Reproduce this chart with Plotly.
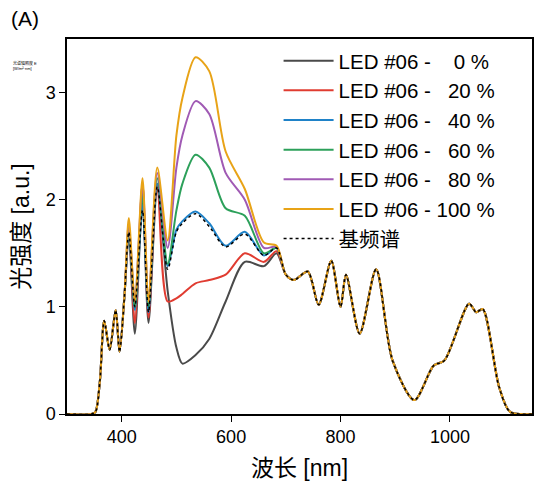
import plotly.graph_objects as go

# shared parts of the spectrum
wl_left = [300, 345, 352, 360, 368, 378, 389, 396, 405, 413]
val_left = [0, 0, 0.02, 0.3, 0.87, 0.6, 0.97, 0.58, 1.1]
wl_right = [700, 715, 740, 760, 783, 800, 810, 835, 865, 895, 935, 970, 990, 1035, 1048, 1060, 1090, 1110, 1150]
val_right = [1.3, 1.25, 1.33, 1.02, 1.43, 1.0, 1.3, 0.75, 1.35, 0.5, 0.13, 0.45, 0.5, 1.03, 0.95, 0.98, 0.25, 0.02, 0]

# region where the LED changes things
wl_mid = [413, 424, 438, 449, 465, 484, 500, 511, 535, 560, 590, 625, 660, 683]
base = [1.7, 1.0, 1.9, 0.95, 2.12, 1.35, 1.7, 1.78, 1.87, 1.75, 1.56, 1.68, 1.48, 1.55]
p0 = [1.68, 0.75, 2.0, 0.85, 2.1, 1.15, 0.62, 0.47, 0.55, 0.7, 1.05, 1.42, 1.38, 1.5]
p20 = [1.7, 0.85, 2.15, 0.9, 2.15, 1.05, 1.08, 1.12, 1.22, 1.25, 1.3, 1.5, 1.42, 1.52]
p40 = [1.7, 0.97, 1.95, 0.95, 2.15, 1.38, 1.72, 1.8, 1.89, 1.78, 1.57, 1.7, 1.48, 1.55]
p60 = [1.72, 1.0, 2.05, 1.0, 2.2, 1.4, 1.9, 2.15, 2.42, 2.3, 1.92, 1.85, 1.5, 1.55]
p80 = [1.78, 1.05, 2.15, 1.05, 2.25, 1.55, 2.3, 2.6, 2.92, 2.8, 2.25, 2.0, 1.55, 1.56]
p100 = [1.83, 1.05, 2.2, 1.05, 2.3, 1.62, 2.6, 2.95, 3.33, 3.2, 2.45, 2.1, 1.6, 1.57]

names = ["LED #06 -    0 %", "LED #06 -   20 %", "LED #06 -   40 %",
         "LED #06 -   60 %", "LED #06 -   80 %", "LED #06 - 100 %"]
colors = ["#4a4a4a", "#e03c31", "#1f82c8", "#2ca05a", "#a05ab4", "#e8a317"]

wl = wl_left[:-1] + wl_mid + wl_right

fig = go.Figure()
for name, c, v in zip(names, colors, [p0, p20, p40, p60, p80, p100]):
    fig.add_trace(go.Scatter(x=wl, y=val_left + v + val_right, name=name, mode="lines",
                             line=dict(color=c, width=2, shape="spline", smoothing=0.8)))
fig.add_trace(go.Scatter(x=wl, y=val_left + base + val_right, name="基频谱", mode="lines",
                         line=dict(color="black", width=1.5, dash="dot", shape="spline", smoothing=0.8)))

ax = dict(showline=True, linecolor="black", linewidth=1.5, mirror=True, ticks="outside",
          ticklen=6, tickcolor="black", showgrid=False, zeroline=False, automargin=False,
          tickfont=dict(size=18, color="black", family="Liberation Sans"))
fig.update_xaxes(ax, range=[300, 1150], tickvals=[400, 600, 800, 1000],
                 title=dict(text="波长 [nm]", font=dict(size=23, color="black"), standoff=14))
fig.update_yaxes(ax, range=[0, 3.5], tickvals=[0, 1, 2, 3],
                 title=dict(text="光强度 [a.u.]", font=dict(size=23, color="black"), standoff=12))

fig.add_annotation(text="(A)", xref="paper", yref="paper", x=-0.125, y=1.055, showarrow=False,
                   xanchor="left", yanchor="middle",
                   font=dict(size=21, color="black", family="Liberation Sans"))
fig.add_annotation(text="光谱辐照度 E<br>[W/m²·nm]", xref="paper", yref="paper", x=-0.12, y=0.95,
                   showarrow=False, xanchor="left", align="left", font=dict(size=4, color="black"))

fig.update_layout(
    width=554, height=494, plot_bgcolor="white", paper_bgcolor="white",
    margin=dict(l=59, r=30, t=31, b=88),
    font=dict(family="Liberation Sans, Noto Sans CJK SC, sans-serif", color="black"),
    legend=dict(x=0.455, y=0.995, xanchor="left", yanchor="top", bgcolor="rgba(0,0,0,0)",
                font=dict(size=20.5, color="black"), tracegroupgap=0, itemwidth=50),
)
fig.write_html("out.html")
